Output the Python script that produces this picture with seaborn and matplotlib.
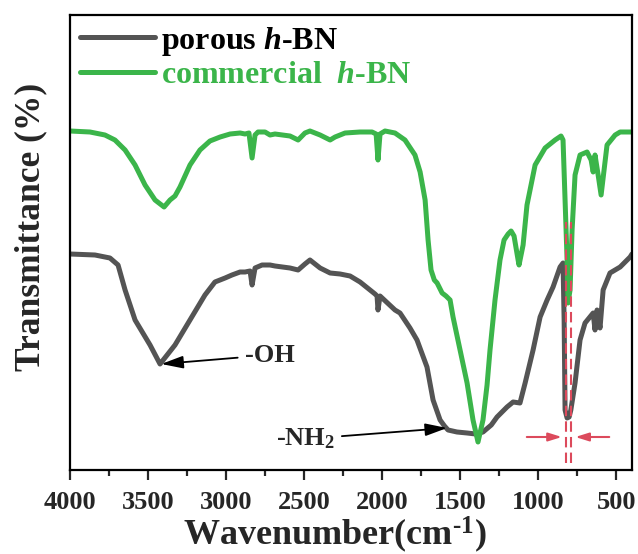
import matplotlib
matplotlib.use("Agg")
import matplotlib.pyplot as plt
import seaborn as sns
import pandas as pd
from matplotlib.lines import Line2D
from matplotlib.ticker import MultipleLocator

# ---------------- data (arbitrary transmittance units) -------------
porous_wn = [4000, 3840, 3744, 3692, 3647, 3583, 3487, 3423, 3327, 3231, 3135, 3071, 3006,
             2962, 2910, 2878, 2846, 2833, 2814, 2769, 2718, 2686, 2590, 2538, 2494, 2462,
             2397, 2333, 2269, 2205, 2141, 2077, 2045, 2032, 2026, 2013, 1917, 1885, 1821,
             1776, 1712, 1673, 1628, 1600, 1577, 1520, 1455, 1400, 1353, 1300, 1263, 1199,
             1160, 1116, 1083, 1032, 987, 942, 904, 859, 840, 833, 827, 814, 801, 790, 763,
             731, 699, 647, 635, 622, 603, 583, 539, 474, 410, 398]
porous_T = [216, 215, 212, 205, 180, 150, 125, 106, 125, 150, 175, 188, 192,
            195, 198, 198, 199, 185, 202, 205, 205, 204, 202, 200, 206, 210,
            202, 197, 196, 194, 188, 180, 176, 174, 160, 174, 160, 157, 142,
            130, 103, 70, 50, 44, 40, 38, 37, 36, 38, 45, 53, 63,
            68, 67, 87, 120, 153, 170, 183, 203, 207, 150, 60, 52, 53, 60, 87,
            130, 147, 157, 140, 160, 142, 180, 197, 203, 213, 216]

comm_wn = [4000, 3872, 3776, 3712, 3647, 3583, 3519, 3455, 3397, 3359, 3327, 3295, 3231,
           3167, 3103, 3038, 2974, 2910, 2878, 2853, 2833, 2814, 2795, 2750, 2718, 2686,
           2590, 2538, 2494, 2462, 2397, 2333, 2301, 2237, 2141, 2064, 2038, 2026, 2013,
           1981, 1917, 1853, 1789, 1756, 1724, 1705, 1686, 1665, 1647, 1615, 1590, 1564,
           1545, 1500, 1455, 1417, 1385, 1353, 1327, 1308, 1276, 1244, 1218, 1192, 1173,
           1154, 1128, 1122, 1096, 1071, 1019, 955, 891, 853, 840, 827, 814, 808, 795, 782,
           763, 731, 686, 660, 647, 635, 615, 596, 577, 558, 506, 474, 398]
comm_T = [339, 338, 335, 330, 320, 305, 285, 270, 263, 270, 274, 283, 305,
          320, 329, 333, 336, 337, 336, 337, 312, 335, 338, 338, 335, 336,
          334, 330, 337, 339, 335, 330, 333, 337, 338, 338, 336, 310, 336,
          339, 337, 330, 315, 298, 270, 230, 200, 190, 187, 177, 174, 170,
          153, 120, 87, 50, 28, 50, 85, 120, 170, 210, 230, 236, 239,
          234, 210, 205, 225, 265, 305, 322, 330, 334, 330, 270, 210, 167, 180, 240,
          295, 315, 318, 310, 298, 315, 295, 275, 300, 325, 335, 338, 338]

series_names = ["porous $h$-BN", "commercial  $h$-BN"]
series_colors = ["#545454", "#3BB54A"]
x_ticks = [4000, 3500, 3000, 2500, 2000, 1500, 1000, 500]

# shift markers (red) and annotations
shift_lines_wn = [820, 789]
oh_label, oh_peak = "-OH", (3415, 106)
nh_label, nh_peak = "-NH$_2$", (1583, 42)

# ---------------- style ----------------
sns.set_style("ticks")
plt.rcParams["font.family"] = ["Liberation Serif", "DejaVu Serif"]
plt.rcParams["font.weight"] = "bold"
plt.rcParams["mathtext.fontset"] = "custom"
plt.rcParams["mathtext.rm"] = "Liberation Serif:bold"
plt.rcParams["mathtext.it"] = "Liberation Serif:italic:bold"
plt.rcParams["mathtext.bf"] = "Liberation Serif:bold"
plt.rcParams["axes.linewidth"] = 1.6

fig = plt.figure(figsize=(6.38, 5.54), dpi=100)
ax = fig.add_axes([70 / 638, 84 / 554, 562 / 638, 455 / 554])

df = pd.concat([
    pd.DataFrame({"wn": porous_wn, "T": porous_T, "sample": series_names[0]}),
    pd.DataFrame({"wn": comm_wn, "T": comm_T, "sample": series_names[1]}),
])
sns.lineplot(data=df, x="wn", y="T", hue="sample", palette=series_colors,
             sort=False, estimator=None, lw=3.6, ax=ax, legend=False)
for ln in ax.lines:
    ln.set_solid_joinstyle("round")
    ln.set_solid_capstyle("round")

ax.set_xlim(4000, 398)
ax.set_ylim(0, 455)
ax.set_xticks(x_ticks)
ax.xaxis.set_minor_locator(MultipleLocator(250))
ax.set_yticks([])
ax.tick_params(axis="x", which="major", length=7, width=1.6, direction="out",
               labelsize=19, pad=8)
ax.tick_params(axis="x", which="minor", length=4, width=1.6, direction="out")
for lab in ax.get_xticklabels():
    lab.set_fontweight("bold")
for s in ax.spines.values():
    s.set_visible(True)
    s.set_color("black")

ax.set_xlabel(r"Wavenumber(cm$^{\text{-1}}$)", fontsize=26, fontweight="bold")
ax.xaxis.set_label_coords(0.472, -0.098)
ax.xaxis.label.set_va("top")
ax.set_ylabel("Transmittance (%)", fontsize=25.5, fontweight="bold")
ax.yaxis.set_label_coords(-0.04, 0.535)
ax.yaxis.label.set_va("bottom")

# red shift markers
red = "#DC4A5C"
for w in shift_lines_wn:
    ax.plot([w, w], [7, 248], color=red, lw=1.5, ls=(0, (5, 2.5)))
ax.annotate("", xy=(830, 33), xytext=(1090, 33),
            arrowprops=dict(arrowstyle="-|>,head_length=0.8,head_width=0.25", color=red, lw=1.5))
ax.annotate("", xy=(779, 33), xytext=(526, 33),
            arrowprops=dict(arrowstyle="-|>,head_length=0.8,head_width=0.25", color=red, lw=1.5))

# annotations
ax.annotate(oh_label, xy=oh_peak, xytext=(2718, 115), fontsize=19, fontweight="bold",
            ha="center", va="center",
            arrowprops=dict(arrowstyle="-|>,head_length=0.7,head_width=0.2", color="black",
                            lw=1.3, shrinkA=3, shrinkB=0))
ax.annotate(nh_label, xy=nh_peak, xytext=(2494, 31), fontsize=19, fontweight="bold",
            ha="center", va="center",
            arrowprops=dict(arrowstyle="-|>,head_length=0.7,head_width=0.2", color="black",
                            lw=1.3, shrinkA=3, shrinkB=0))

handles = [Line2D([0], [0], color=c, lw=3.6) for c in series_colors]
leg = ax.legend(handles, series_names, loc="upper left", frameon=False,
                handlelength=2.35, handletextpad=0.2, labelspacing=0.1,
                borderpad=0.0, borderaxespad=0.3, prop={"weight": "bold", "size": 23})
for t, c in zip(leg.get_texts(), ["black", series_colors[1]]):
    t.set_color(c)

fig.savefig("out.png", dpi=100)
